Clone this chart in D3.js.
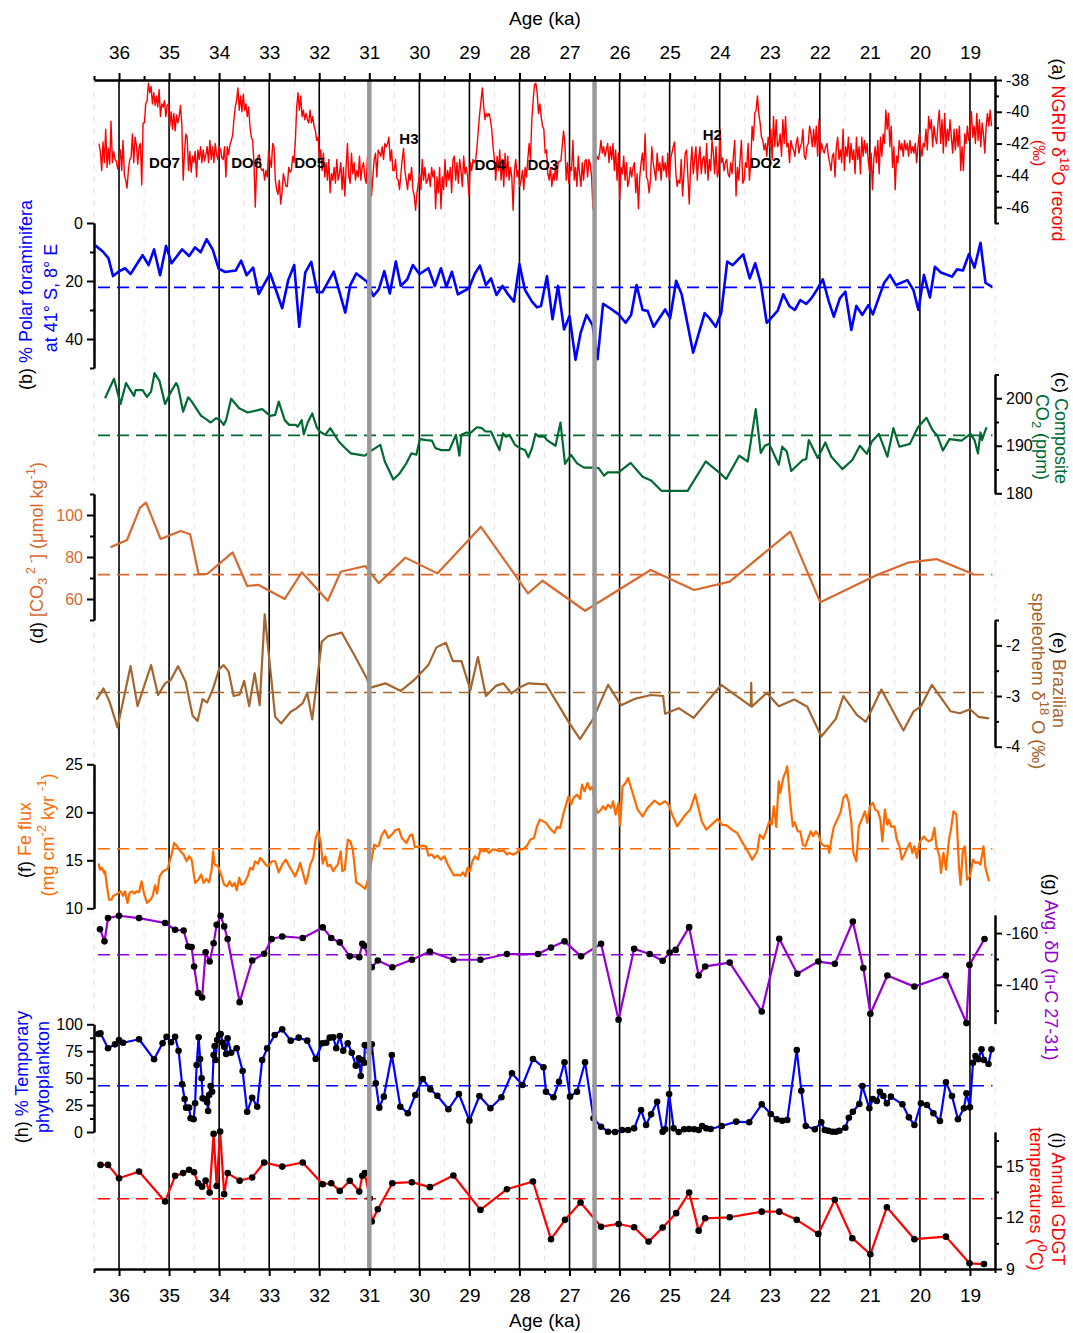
<!DOCTYPE html>
<html>
<head>
<meta charset="utf-8">
<script src="https://cdnjs.cloudflare.com/ajax/libs/d3/7.8.5/d3.min.js"></script>
<style>
  body { margin: 0; background: #fff; }
  text { font-family: "Liberation Sans", Arial, sans-serif; }
</style>
</head>
<body>
<svg id="chart"></svg>
<script>
// ---- data (ages in ka) ----
const ageTicks = [36, 35, 34, 33, 32, 31, 30, 29, 28, 27, 26, 25, 24, 23, 22, 21, 20, 19]
const eventBars = [31, 26.5]

// NGRIP d18O, read on an even age grid (36.40 -> 27.30 and 27.28 -> 18.57 ka)
const ngripOlder = [-42.0,-42.5,-43.7,-41.9,-43.2,-41.1,-43.5,-42.3,-43.3,-40.6,-43.2,-42.5,-43.0,-43.1,-43.6,-43.1,-42.4,-43.7,-41.8,-44.0,-44.3,-44.8,-43.7,-43.0,-42.9,-41.4,-43.2,-41.6,-42.1,-43.3,-42.2,-42.0,-44.6,-40.7,-40.7,-39.5,-39.3,-38.2,-38.8,-38.4,-39.5,-38.8,-39.6,-39.0,-39.7,-38.6,-40.3,-39.5,-39.7,-39.3,-40.3,-39.6,-39.5,-40.9,-40.0,-41.1,-40.1,-41.2,-40.2,-40.7,-40.3,-39.6,-40.8,-44.3,-42.6,-41.4,-41.6,-43.7,-42.5,-43.8,-42.8,-43.2,-42.5,-44.1,-42.4,-43.0,-42.2,-43.2,-42.4,-43.1,-42.7,-42.2,-43.2,-41.8,-43.0,-42.2,-43.2,-42.0,-42.7,-43.0,-42.2,-42.4,-42.9,-43.0,-42.2,-44.1,-42.2,-42.7,-42.1,-41.8,-41.5,-40.5,-39.7,-39.3,-38.5,-39.9,-39.0,-40.0,-38.9,-39.9,-39.5,-40.3,-39.7,-40.9,-41.6,-41.8,-43.2,-46.0,-43.5,-42.8,-42.7,-43.5,-43.7,-43.6,-44.3,-43.7,-44.1,-42.4,-43.0,-43.5,-42.0,-42.2,-44.3,-44.9,-45.2,-44.3,-45.8,-45.1,-43.9,-44.3,-44.7,-44.7,-43.5,-43.8,-43.7,-42.8,-43.2,-41.8,-39.7,-38.8,-39.9,-39.0,-40.3,-39.9,-40.5,-40.1,-40.5,-40.7,-39.9,-40.7,-40.3,-40.9,-41.2,-41.8,-41.6,-43.0,-42.4,-43.7,-42.6,-44.1,-43.2,-44.3,-43.0,-45.1,-43.9,-44.3,-43.5,-44.5,-43.0,-44.3,-43.9,-43.2,-44.9,-43.5,-45.3,-43.5,-42.0,-44.1,-44.5,-42.6,-43.9,-43.2,-44.3,-43.7,-44.1,-42.8,-44.3,-43.5,-43.2,-44.1,-44.5,-42.8,-44.3,-43.0,-45.3,-44.1,-43.0,-42.6,-44.1,-42.4,-42.6,-42.8,-42.2,-43.0,-42.0,-42.2,-42.0,-41.6,-43.1,-42.4,-43.7,-43.7,-43.0,-44.2,-44.3,-44.9,-43.9,-43.0,-42.3,-43.7,-44.3,-44.9,-43.9,-44.3,-43.5,-44.9,-45.3,-46.2,-45.1,-44.5,-43.9,-44.9,-43.0,-44.3,-43.5,-44.5,-44.3,-43.9,-44.7,-43.5,-44.1,-43.7,-46.1,-44.1,-45.1,-43.5,-46.1,-44.1,-44.9,-43.0,-44.7,-43.7,-44.3,-43.5,-45.1,-43.0,-42.8,-44.3,-43.2,-44.5,-43.0,-43.7,-44.7,-42.8,-43.9,-43.5,-44.1,-45.3,-43.2,-43.7,-43.0,-43.2,-43.0,-42.2,-41.1,-40.1,-39.3,-38.5,-39.7,-40.5,-40.1,-40.3,-40.1,-40.5,-41.1,-42.2,-43.0,-44.3,-42.8,-43.7,-42.4,-44.3,-43.0,-44.7,-42.6,-44.1,-42.8,-44.3,-43.5,-44.1,-46.2,-43.7,-43.0,-44.1,-43.7,-44.7,-44.3,-43.7,-44.9,-43.5,-44.1,-43.0,-42.0,-43.0,-40.5,-39.3,-38.3,-38.2,-38.8,-40.1,-39.5,-40.3,-40.9,-41.1,-42.6,-42.4,-43.9,-44.3,-43.5,-44.7,-43.9,-44.3]
const ngripYounger = [-43.2,-44.3,-43.2,-43.1,-43.1,-42.2,-41.2,-42.0,-44.3,-43.2,-44.5,-43.5,-43.7,-41.8,-44.3,-43.5,-44.7,-42.8,-43.9,-44.7,-43.2,-44.3,-43.1,-43.0,-44.1,-43.0,-43.3,-44.1,-46.1,-43.3,-43.2,-42.8,-43.0,-42.6,-41.8,-42.6,-42.2,-42.8,-42.4,-42.0,-43.2,-42.2,-43.0,-42.0,-43.7,-42.4,-44.3,-42.6,-45.5,-43.5,-43.9,-42.8,-44.3,-43.2,-44.7,-44.3,-43.5,-44.1,-43.5,-43.2,-45.1,-43.9,-46.1,-44.1,-43.2,-42.6,-43.7,-41.4,-44.1,-44.3,-45.1,-44.3,-42.2,-43.2,-43.7,-44.3,-42.6,-43.7,-43.2,-44.3,-42.8,-43.7,-43.2,-44.1,-42.6,-44.3,-43.0,-42.6,-42.2,-41.9,-43.9,-44.7,-44.3,-44.5,-43.0,-45.3,-43.9,-42.6,-42.4,-44.1,-45.8,-43.5,-42.2,-43.9,-43.0,-42.2,-44.3,-43.0,-42.2,-43.9,-43.0,-42.8,-43.9,-42.0,-44.3,-43.0,-43.7,-41.8,-42.6,-43.9,-42.2,-44.1,-43.7,-41.1,-43.2,-42.9,-43.7,-43.2,-43.0,-43.9,-44.1,-43.2,-43.9,-42.8,-41.8,-45.3,-43.5,-44.3,-43.0,-41.8,-44.5,-44.3,-43.2,-43.5,-42.0,-44.3,-43.2,-40.9,-41.8,-40.1,-39.9,-39.0,-40.1,-40.7,-41.6,-41.8,-42.4,-42.0,-42.8,-41.6,-42.2,-41.1,-43.0,-40.3,-42.2,-40.5,-42.2,-42.0,-41.4,-42.8,-40.5,-42.0,-40.3,-42.2,-42.0,-43.2,-41.8,-42.2,-42.4,-42.8,-42.0,-41.6,-42.6,-42.2,-42.0,-41.1,-42.8,-43.0,-42.2,-42.0,-40.9,-41.4,-42.2,-41.1,-42.2,-40.9,-42.8,-40.5,-42.6,-42.0,-42.4,-42.6,-42.2,-42.0,-42.8,-43.2,-43.7,-42.8,-42.6,-44.1,-42.2,-41.6,-43.0,-42.4,-43.2,-41.1,-43.7,-42.2,-42.8,-41.6,-43.2,-42.0,-43.0,-42.4,-43.9,-41.6,-43.0,-42.2,-43.9,-41.6,-42.8,-41.8,-42.6,-42.0,-43.2,-43.9,-42.6,-44.9,-43.0,-42.2,-43.2,-41.8,-43.9,-41.6,-42.8,-41.4,-42.0,-39.9,-41.1,-40.1,-42.2,-40.9,-43.5,-42.2,-44.9,-42.8,-43.2,-41.8,-42.4,-42.0,-42.8,-41.8,-42.4,-42.0,-42.8,-41.8,-42.6,-42.2,-42.6,-42.0,-43.2,-42.2,-41.4,-42.2,-42.8,-42.0,-42.2,-41.1,-42.4,-40.3,-41.1,-40.5,-42.2,-40.9,-41.6,-42.0,-40.7,-39.9,-42.0,-40.5,-42.6,-40.1,-42.2,-41.1,-41.8,-40.5,-41.6,-42.6,-41.1,-42.4,-41.1,-42.2,-40.9,-43.7,-42.2,-43.7,-41.4,-42.0,-40.9,-41.8,-41.1,-40.0,-41.6,-40.9,-42.0,-40.1,-41.8,-40.5,-42.2,-40.7,-41.4,-42.6,-40.9,-40.1,-40.9,-39.9,-40.9]
const ngripEvents = [['DO7',35.40,-43.2],['DO6',33.76,-43.2],['DO5',32.50,-43.2],['H3',30.40,-41.7],['DO4',28.90,-43.3],['DO3',27.84,-43.3],['H2',24.34,-41.4],['DO2',23.40,-43.2]]

const foram = [[36.47,7.8],[36.32,9.9],[36.21,12.2],[36.12,18.3],[36.01,16.8],[35.88,15.6],[35.77,17.6],[35.53,11.1],[35.41,14.5],[35.30,9.1],[35.18,18.0],[35.06,7.9],[34.95,13.9],[34.74,9.1],[34.60,11.4],[34.48,8.4],[34.37,10.1],[34.25,5.6],[34.13,9.1],[34.01,15.7],[33.88,16.9],[33.67,16.4],[33.56,13.0],[33.45,18.0],[33.32,15.4],[33.21,24.5],[32.98,17.4],[32.74,29.4],[32.62,19.7],[32.50,14.5],[32.40,35.8],[32.28,17.1],[32.16,13.4],[32.04,23.9],[31.94,23.9],[31.71,16.8],[31.48,30.9],[31.38,21.4],[31.26,17.4],[31.05,20.2],[30.92,25.2],[30.81,22.9],[30.70,16.6],[30.59,24.3],[30.47,13.3],[30.37,21.7],[30.24,19.4],[30.13,14.5],[30.00,17.6],[29.82,15.6],[29.69,21.7],[29.57,15.6],[29.46,22.0],[29.35,16.8],[29.23,24.6],[29.01,22.5],[28.89,17.4],[28.79,14.7],[28.67,21.4],[28.57,19.1],[28.46,24.8],[28.34,21.7],[28.22,24.8],[28.11,27.1],[28.00,14.2],[27.89,23.1],[27.75,27.1],[27.65,29.1],[27.57,28.6],[27.45,18.3],[27.34,33.2],[27.23,21.7],[27.11,36.7],[27.00,32.1],[26.88,47.2],[26.78,38.0],[26.66,31.7],[26.54,35.2],[26.44,47.0],[26.33,27.9],[26.19,29.4],[26.02,31.5],[25.88,34.4],[25.77,31.7],[25.66,21.4],[25.54,30.0],[25.44,30.3],[25.32,35.8],[25.09,29.8],[24.99,32.9],[24.87,19.9],[24.76,24.6],[24.53,44.7],[24.30,31.1],[24.20,32.9],[24.08,35.8],[23.97,31.1],[23.85,13.3],[23.74,14.5],[23.53,10.8],[23.40,19.1],[23.29,13.9],[23.18,20.8],[23.06,34.4],[22.84,30.2],[22.73,24.6],[22.61,28.6],[22.50,30.0],[22.39,26.6],[22.27,27.9],[22.17,26.0],[22.06,23.1],[21.94,19.4],[21.82,27.1],[21.72,32.3],[21.60,26.0],[21.49,23.7],[21.37,36.9],[21.27,28.6],[21.15,31.7],[21.03,28.3],[20.94,31.5],[20.72,20.8],[20.60,17.9],[20.48,21.4],[20.25,19.7],[20.13,23.1],[20.03,30.0],[19.92,17.9],[19.80,25.7],[19.70,15.1],[19.58,17.1],[19.36,18.5],[19.26,16.0],[19.14,16.4],[19.02,10.7],[18.91,15.4],[18.79,6.8],[18.69,20.6],[18.56,22.0]]

const co2 = [[36.28,200.0],[36.10,204.1],[35.97,198.8],[35.86,203.2],[35.70,200.5],[35.67,201.7],[35.53,201.7],[35.44,200.3],[35.36,201.4],[35.29,205.3],[35.19,203.6],[35.08,198.8],[34.96,201.4],[34.86,203.2],[34.82,202.4],[34.72,197.2],[34.62,200.2],[34.56,199.5],[34.36,196.3],[34.26,195.6],[34.17,194.9],[34.06,195.8],[33.98,195.4],[33.91,194.4],[33.86,195.4],[33.76,199.9],[33.60,197.9],[33.43,197.0],[33.14,197.7],[32.98,196.3],[32.88,196.5],[32.81,199.3],[32.69,195.4],[32.60,194.4],[32.47,194.4],[32.43,194.0],[32.35,195.4],[32.31,192.4],[32.23,194.9],[32.14,196.8],[32.05,193.9],[31.99,193.0],[31.88,192.3],[31.78,193.7],[31.61,190.9],[31.50,189.7],[31.37,188.4],[31.19,188.1],[31.09,187.9],[30.99,188.8],[30.88,189.5],[30.78,190.2],[30.69,186.7],[30.52,182.9],[30.40,184.1],[30.26,186.3],[30.16,188.4],[30.06,188.1],[29.99,191.4],[29.86,191.2],[29.75,191.1],[29.68,189.5],[29.57,189.1],[29.40,189.1],[29.27,192.3],[29.20,187.9],[29.16,192.3],[29.06,192.8],[28.99,192.6],[28.85,193.9],[28.75,193.7],[28.68,193.0],[28.57,193.0],[28.40,189.1],[28.33,192.6],[28.27,191.9],[28.20,192.3],[28.09,190.2],[27.99,189.5],[27.89,189.1],[27.82,187.6],[27.75,189.5],[27.68,192.5],[27.61,191.9],[27.50,191.9],[27.45,191.2],[27.28,190.0],[27.18,194.9],[27.09,186.2],[26.97,188.1],[26.85,186.3],[26.71,185.4],[26.54,185.4],[26.42,185.3],[26.31,183.7],[26.24,184.4],[26.02,184.4],[25.78,186.4],[25.54,183.5],[25.37,182.7],[25.16,180.5],[24.64,180.5],[24.28,186.7],[23.99,184.2],[23.87,183.0],[23.61,187.9],[23.44,186.7],[23.34,193.5],[23.28,197.7],[23.18,188.5],[23.10,190.0],[23.01,190.4],[22.82,186.0],[22.75,189.8],[22.66,188.8],[22.57,184.7],[22.44,186.0],[22.34,187.0],[22.27,187.2],[22.22,191.2],[22.04,187.4],[21.89,190.7],[21.77,187.7],[21.55,185.1],[21.35,187.0],[21.20,190.0],[21.06,188.3],[20.96,190.9],[20.82,192.5],[20.65,187.7],[20.53,193.7],[20.41,189.8],[20.20,190.4],[20.04,193.9],[19.87,195.9],[19.75,193.3],[19.65,192.1],[19.54,189.0],[19.41,191.4],[19.17,191.1],[18.99,192.5],[18.91,191.2],[18.84,188.4],[18.79,192.8],[18.76,191.2],[18.67,193.9]]

const carbonate = [[36.17,84.6],[35.84,88.1],[35.58,103.5],[35.46,105.9],[35.17,88.6],[34.77,92.4],[34.58,90.8],[34.41,71.9],[34.24,71.9],[33.73,82.2],[33.44,66.2],[33.21,66.7],[32.69,60.0],[32.35,72.7],[31.83,59.2],[31.57,73.0],[31.08,75.7],[30.81,67.5],[30.28,79.7],[29.64,72.2],[28.77,94.4],[27.83,62.7],[27.54,68.7],[26.69,54.4],[25.38,73.8],[24.51,64.3],[23.80,68.3],[22.59,92.1],[21.99,58.4],[20.86,71.4],[20.24,77.3],[19.67,79.0],[18.93,71.8]]

const speleo = [[36.45,-3.07],[36.31,-2.85],[36.19,-3.11],[36.03,-3.62],[35.77,-2.41],[35.63,-3.20],[35.36,-2.39],[35.22,-2.98],[35.08,-2.75],[34.97,-2.69],[34.82,-2.41],[34.67,-2.72],[34.53,-3.39],[34.43,-3.49],[34.33,-3.06],[34.24,-3.13],[34.12,-2.85],[34.00,-2.47],[33.91,-2.39],[33.81,-2.52],[33.71,-3.00],[33.59,-2.97],[33.50,-2.70],[33.40,-3.20],[33.29,-2.55],[33.19,-3.18],[33.09,-1.39],[32.88,-3.41],[32.76,-3.54],[32.57,-3.31],[32.45,-3.24],[32.33,-3.14],[32.24,-2.94],[32.14,-3.46],[31.95,-1.93],[31.83,-1.82],[31.55,-1.75],[31.30,-2.19],[31.05,-2.65],[30.99,-2.84],[30.68,-2.75],[30.37,-2.90],[30.09,-2.67],[29.82,-2.39],[29.66,-2.04],[29.47,-1.95],[29.33,-2.31],[29.16,-2.31],[28.98,-2.88],[28.83,-2.23],[28.67,-3.00],[28.47,-2.80],[28.32,-2.75],[28.16,-2.95],[27.98,-2.82],[27.82,-2.75],[27.47,-2.77],[27.00,-3.54],[26.79,-3.85],[26.54,-3.47],[26.23,-2.78],[25.97,-3.18],[25.68,-3.05],[25.37,-2.98],[25.13,-3.00],[25.09,-3.35],[24.82,-3.24],[24.52,-3.43],[23.97,-2.78],[23.38,-3.20],[23.37,-2.74],[23.36,-3.21],[23.06,-2.94],[22.82,-3.20],[22.51,-3.07],[22.25,-3.21],[21.97,-3.80],[21.68,-3.45],[21.53,-3.00],[21.26,-3.37],[21.08,-3.51],[20.77,-2.87],[20.33,-3.68],[20.13,-3.31],[19.98,-3.20],[19.76,-2.78],[19.39,-3.30],[19.20,-3.34],[19.00,-3.26],[18.83,-3.41],[18.62,-3.44]]

const feFlux = [[36.41,14.66],[36.38,14.03],[36.34,14.21],[36.30,13.69],[36.28,13.86],[36.24,12.29],[36.20,10.90],[36.15,10.90],[36.12,11.25],[36.06,11.43],[36.01,11.60],[35.97,11.77],[35.92,11.30],[35.88,11.77],[35.83,10.56],[35.79,11.60],[35.74,11.77],[35.69,11.53],[35.65,11.77],[35.60,11.67],[35.55,12.81],[35.50,11.53],[35.44,10.56],[35.37,10.90],[35.33,11.25],[35.28,12.40],[35.24,11.53],[35.19,13.33],[35.12,13.86],[35.03,14.10],[34.95,15.60],[34.90,16.81],[34.84,16.46],[34.77,15.94],[34.71,15.60],[34.65,14.90],[34.60,15.42],[34.55,15.07],[34.48,12.65],[34.41,13.00],[34.36,13.51],[34.31,12.65],[34.26,13.06],[34.20,12.71],[34.15,14.03],[34.12,15.94],[34.09,14.55],[34.02,14.38],[33.95,13.33],[33.90,12.47],[33.84,12.29],[33.79,12.81],[33.74,12.29],[33.69,12.65],[33.65,11.88],[33.60,13.17],[33.56,12.47],[33.50,12.57],[33.43,13.33],[33.38,14.21],[33.33,14.03],[33.28,14.90],[33.22,14.66],[33.18,15.25],[33.12,14.90],[33.07,14.55],[33.02,14.38],[32.95,14.90],[32.88,14.90],[32.81,13.75],[32.74,14.55],[32.67,15.07],[32.60,14.38],[32.54,13.86],[32.48,13.33],[32.43,13.96],[32.38,14.73],[32.33,13.75],[32.27,12.57],[32.23,13.27],[32.18,14.55],[32.12,15.25],[32.07,17.33],[32.02,18.02],[31.97,16.81],[31.93,14.66],[31.88,15.42],[31.83,14.38],[31.78,14.55],[31.72,13.86],[31.68,14.21],[31.63,14.55],[31.57,15.94],[31.54,13.86],[31.49,14.03],[31.43,17.16],[31.38,16.98],[31.33,16.11],[31.26,12.71],[31.17,12.40],[31.08,12.02],[30.99,13.69],[30.95,15.25],[30.90,16.64],[30.85,16.46],[30.81,16.53],[30.76,17.50],[30.69,18.13],[30.62,17.33],[30.55,17.68],[30.48,18.13],[30.41,18.27],[30.35,17.33],[30.26,16.81],[30.19,17.57],[30.14,17.68],[30.09,16.40],[30.02,16.40],[29.93,16.53],[29.86,16.40],[29.82,15.49],[29.75,15.60],[29.70,15.25],[29.64,15.49],[29.57,15.07],[29.50,15.42],[29.43,14.55],[29.37,13.96],[29.31,13.41],[29.25,13.51],[29.18,13.41],[29.13,13.75],[29.08,13.33],[29.04,14.21],[28.99,13.86],[28.94,14.90],[28.89,15.42],[28.83,15.07],[28.78,16.11],[28.71,15.94],[28.67,16.11],[28.61,15.77],[28.55,16.11],[28.48,16.11],[28.40,15.94],[28.32,16.04],[28.25,15.60],[28.20,15.77],[28.13,15.60],[28.06,15.77],[27.99,16.11],[27.92,16.18],[27.85,16.53],[27.78,17.16],[27.71,17.33],[27.65,18.54],[27.59,19.24],[27.47,18.90],[27.37,18.20],[27.30,17.85],[27.25,18.48],[27.19,18.37],[27.11,20.10],[27.02,21.67],[26.97,20.80],[26.92,21.50],[26.85,21.84],[26.79,21.40],[26.75,22.89],[26.70,22.19],[26.64,23.06],[26.59,22.36],[26.54,22.71],[26.49,20.80],[26.44,19.94],[26.38,20.21],[26.33,20.63],[26.28,20.28],[26.23,20.80],[26.17,20.46],[26.13,21.15],[26.08,19.76],[26.02,20.98],[25.99,18.61],[25.94,22.71],[25.88,23.06],[25.83,23.58],[25.78,22.71],[25.71,21.50],[25.64,20.28],[25.54,19.58],[25.44,20.46],[25.30,21.22],[25.20,20.80],[25.09,21.15],[25.02,20.80],[24.95,19.76],[24.85,18.54],[24.71,19.58],[24.59,20.28],[24.49,21.84],[24.44,20.80],[24.36,19.06],[24.27,18.20],[24.16,18.72],[24.04,19.31],[23.96,18.72],[23.85,18.61],[23.76,18.20],[23.65,17.85],[23.54,16.81],[23.44,15.94],[23.35,15.07],[23.25,15.94],[23.20,17.68],[23.13,17.23],[23.06,18.20],[23.01,19.06],[22.96,18.72],[22.92,20.63],[22.87,18.48],[22.82,23.23],[22.79,22.02],[22.73,23.58],[22.68,24.27],[22.65,24.79],[22.59,20.98],[22.54,18.54],[22.50,18.96],[22.44,18.02],[22.39,18.02],[22.34,16.64],[22.29,16.46],[22.23,17.33],[22.18,18.02],[22.13,17.50],[22.08,18.02],[22.03,17.68],[21.97,16.74],[21.90,16.46],[21.84,16.53],[21.81,15.77],[21.77,17.16],[21.72,18.48],[21.65,19.24],[21.58,20.10],[21.53,21.50],[21.49,21.74],[21.47,21.84],[21.42,20.98],[21.37,18.90],[21.33,15.77],[21.27,14.90],[21.22,18.54],[21.15,19.42],[21.10,20.10],[21.05,18.90],[21.00,20.63],[20.94,20.98],[20.89,20.28],[20.84,20.10],[20.79,19.24],[20.75,16.98],[20.70,20.28],[20.65,18.72],[20.62,19.24],[20.57,18.48],[20.51,18.54],[20.46,17.16],[20.41,16.46],[20.36,15.07],[20.31,15.60],[20.25,16.29],[20.20,16.81],[20.15,15.77],[20.11,16.46],[20.06,15.25],[20.01,16.81],[19.97,17.16],[19.92,17.50],[19.87,17.16],[19.82,16.98],[19.76,17.16],[19.71,18.37],[19.67,16.46],[19.61,15.42],[19.58,13.69],[19.53,15.77],[19.48,14.03],[19.42,17.16],[19.38,18.20],[19.33,20.10],[19.27,19.76],[19.22,14.38],[19.19,12.47],[19.14,16.11],[19.10,16.46],[19.06,12.99],[19.00,13.33],[18.94,15.07],[18.89,14.73],[18.84,14.80],[18.79,14.55],[18.73,16.46],[18.69,14.21],[18.62,12.81]]

const deltaD = [[36.38,-161.5],[36.29,-156.8],[36.22,-165.8],[36.00,-166.7],[35.60,-165.8],[35.08,-163.9],[34.88,-161.3],[34.71,-161.0],[34.62,-154.8],[34.55,-154.6],[34.50,-147.1],[34.42,-136.8],[34.34,-135.1],[34.27,-152.6],[34.19,-149.0],[34.11,-156.1],[34.05,-163.2],[33.97,-166.7],[33.90,-162.6],[33.83,-157.7],[33.59,-133.3],[33.34,-149.4],[33.10,-152.0],[32.95,-157.7],[32.74,-158.7],[32.33,-158.1],[31.93,-162.2],[31.76,-158.1],[31.59,-156.4],[31.39,-151.0],[31.20,-150.7],[31.14,-155.9],[31.10,-155.1],[30.95,-146.8],[30.83,-149.4],[30.54,-146.8],[30.15,-149.7],[29.79,-152.9],[29.32,-149.7],[28.78,-149.7],[28.25,-151.9],[27.63,-151.9],[27.37,-154.4],[27.10,-156.8],[26.77,-151.0],[26.37,-155.9],[26.02,-126.5],[25.71,-153.9],[25.40,-151.9],[25.14,-149.3],[25.00,-152.5],[24.88,-153.5],[24.61,-162.3],[24.42,-143.6],[24.29,-147.1],[23.80,-148.6],[23.16,-129.7],[22.81,-157.8],[22.45,-144.3],[22.03,-149.0],[21.70,-148.1],[21.34,-164.5],[21.13,-146.5],[20.99,-128.8],[20.65,-143.6],[20.11,-139.3],[19.48,-143.6],[19.07,-125.2],[19.01,-147.7],[18.71,-157.7]]

const phyto = [[36.41,91.0],[36.37,91.6],[36.22,77.7],[36.08,81.4],[36.00,85.4],[35.92,82.9],[35.60,86.1],[35.30,67.5],[35.13,82.4],[35.05,88.5],[34.96,83.3],[34.88,88.5],[34.81,75.5],[34.74,44.3],[34.69,30.6],[34.66,22.6],[34.60,22.6],[34.57,12.7],[34.51,11.8],[34.48,26.6],[34.45,62.2],[34.41,87.9],[34.38,67.8],[34.35,49.9],[34.33,31.3],[34.28,30.4],[34.24,27.6],[34.22,19.5],[34.20,34.4],[34.17,42.7],[34.14,37.4],[34.11,71.5],[34.09,79.9],[34.07,66.9],[34.04,85.4],[34.00,90.1],[33.97,91.0],[33.93,82.9],[33.90,79.2],[33.86,72.4],[33.83,87.0],[33.76,73.6],[33.65,77.7],[33.53,56.6],[33.44,18.8],[33.34,31.8],[33.24,23.5],[33.14,66.9],[33.04,77.7],[32.89,90.1],[32.74,95.3],[32.57,84.8],[32.41,87.6],[32.24,84.8],[32.07,67.8],[31.94,82.4],[31.86,82.9],[31.79,87.6],[31.72,87.9],[31.66,77.7],[31.59,89.1],[31.52,75.5],[31.43,82.4],[31.35,73.6],[31.27,61.6],[31.21,68.4],[31.17,52.0],[31.14,66.9],[31.10,64.3],[31.09,80.8],[30.99,74.0],[30.95,81.4],[30.87,45.2],[30.80,22.6],[30.71,32.8],[30.55,71.5],[30.38,23.5],[30.23,17.4],[30.08,34.4],[29.93,49.2],[29.78,39.6],[29.64,33.7],[29.42,21.1],[29.21,35.3],[29.00,10.5],[28.80,33.4],[28.58,22.0],[28.36,32.2],[28.15,54.5],[27.94,43.6],[27.73,67.8],[27.52,60.1],[27.47,37.4],[27.32,32.2],[27.21,46.7],[27.10,64.7],[26.99,32.8],[26.85,37.4],[26.69,64.7],[26.52,12.7],[26.37,4.9],[26.23,0.3],[26.09,0.0],[25.95,1.9],[25.83,1.9],[25.71,3.4],[25.57,20.4],[25.47,6.5],[25.37,16.4],[25.25,28.1],[25.14,0.3],[25.09,2.5],[25.01,35.3],[24.92,3.4],[24.82,0.0],[24.71,2.5],[24.61,2.8],[24.51,2.5],[24.42,1.9],[24.35,5.6],[24.27,3.4],[24.18,2.8],[23.96,5.6],[23.67,9.6],[23.41,9.0],[23.16,25.7],[22.98,16.7],[22.86,11.8],[22.75,10.5],[22.65,11.1],[22.46,76.1],[22.37,38.3],[22.28,5.6],[22.10,2.5],[21.97,9.0],[21.90,1.9],[21.83,1.2],[21.75,0.3],[21.68,0.3],[21.61,1.2],[21.49,4.0],[21.42,13.3],[21.34,18.8],[21.21,26.0],[21.15,42.7],[21.01,22.0],[20.94,30.6],[20.86,28.8],[20.80,37.4],[20.73,33.4],[20.66,26.6],[20.58,32.8],[20.35,25.7],[20.22,13.6],[20.11,6.5],[19.98,26.6],[19.86,25.1],[19.73,17.4],[19.60,10.2],[19.48,46.1],[19.36,33.4],[19.24,11.8],[19.12,22.0],[19.07,35.9],[19.00,22.9],[18.94,64.3],[18.89,70.6],[18.83,67.5],[18.77,76.8],[18.72,66.9],[18.63,63.1],[18.57,76.8]]

const gdgt = [[36.37,15.08],[36.22,15.08],[36.00,14.30],[35.60,14.69],[35.08,12.94],[34.88,14.44],[34.72,14.60],[34.60,14.79],[34.50,14.65],[34.42,14.01],[34.34,13.81],[34.27,14.16],[34.19,13.46],[34.11,16.89],[34.05,13.85],[33.98,17.03],[33.90,13.37],[33.83,14.60],[33.59,14.16],[33.34,14.34],[33.10,15.22],[32.74,14.98],[32.33,15.22],[31.93,13.95],[31.76,14.01],[31.59,13.56],[31.39,14.15],[31.20,13.52],[31.14,14.44],[31.09,14.60],[30.99,13.13],[30.95,11.77],[30.83,12.49],[30.54,14.01],[30.15,14.07],[29.79,13.78],[29.32,14.46],[28.78,12.45],[28.25,13.66],[27.73,14.11],[27.37,10.74],[27.09,11.87],[26.78,12.88],[26.37,11.47],[26.02,11.63],[25.71,11.44],[25.42,10.60],[25.14,11.42],[24.87,12.26],[24.61,13.46],[24.42,11.24],[24.29,11.96],[23.80,12.02],[23.16,12.35],[22.81,12.35],[22.46,11.87],[22.03,11.05],[21.70,13.04],[21.35,10.80],[20.99,9.86],[20.66,12.61],[20.11,10.74],[19.48,10.89],[19.01,9.33],[18.72,9.29]]

// long-term mean levels (dashed)
const foramMean = 22.2
const co2Mean = 192.2
const carbonateMean = 71.6
const speleoMean = -2.93
const feMean = 16.2
const deltaDMean = -151.6
const phytoMean = 43
const gdgtMean = 13.1

// ---- layout ----
const W = 1073, H = 1333
const axisTopY = 80, axisBottomY = 1269
const leftX = 94, rightX = 995
const C = {
  black: '#000', red: '#ff0000', blue: '#0000ff', green: '#006a32',
  co3: '#d8692e', brown: '#a5652f', fe: '#ff6a00', purple: '#9400d3'
}

const svg = d3.select('#chart').attr('width', W).attr('height', H)

const x = d3.scaleLinear().domain([36.5, 18.5]).range([leftX, rightX])

const yA = d3.scaleLinear().domain([-47, -38]).range([223, 80])
const yB = d3.scaleLinear().domain([0, 50]).range([223, 368])
const yC = d3.scaleLinear().domain([180, 205]).range([493.3, 374.5])
const yD = d3.scaleLinear().domain([50, 110]).range([620, 494])
const yE = d3.scaleLinear().domain([-4, -1.5]).range([746.7, 620])
const yF = d3.scaleLinear().domain([10, 25]).range([908.3, 764.3])
const yG = d3.scaleLinear().domain([-167, -125]).range([915, 1023.6])
const yH = d3.scaleLinear().domain([0, 100]).range([1132, 1024.3])
const yI = d3.scaleLinear().domain([9, 17]).range([axisBottomY, 1132])

const spread = (vals, from, to) => {
  const step = (to - from) / (vals.length - 1)
  return vals.map((v, i) => [from + i * step, v])
}
const ngrip = [...spread(ngripOlder, 36.40, 27.30), ...spread(ngripYounger, 27.28, 18.57)]

// faint half-ka guide lines
svg.append('g').selectAll('line')
  .data(d3.range(36.5, 18.4, -1))
  .join('line')
  .attr('x1', d => x(d)).attr('x2', d => x(d))
  .attr('y1', axisTopY).attr('y2', axisBottomY)
  .attr('stroke', '#e4e4e4').attr('stroke-width', 1).attr('stroke-dasharray', '6,6')

// black 1-ka lines
svg.append('g').selectAll('line')
  .data(ageTicks)
  .join('line')
  .attr('x1', d => x(d)).attr('x2', d => x(d))
  .attr('y1', axisTopY).attr('y2', axisBottomY)
  .attr('stroke', '#000').attr('stroke-width', 1.6)

// dashed mean lines
const means = [
  [foramMean, yB, C.blue], [co2Mean, yC, C.green], [carbonateMean, yD, C.co3],
  [speleoMean, yE, C.brown], [feMean, yF, C.fe], [deltaDMean, yG, C.purple],
  [phytoMean, yH, C.blue], [gdgtMean, yI, C.red]
]
svg.append('g').selectAll('line')
  .data(means)
  .join('line')
  .attr('x1', x(36.42)).attr('x2', x(18.55))
  .attr('y1', d => d[1](d[0])).attr('y2', d => d[1](d[0]))
  .attr('stroke', d => d[2]).attr('stroke-width', 1.6).attr('stroke-dasharray', '12,7')

// series
const series = [
  { data: ngrip, y: yA, color: C.red, w: 1.4 },
  { data: foram, y: yB, color: C.blue, w: 2.6 },
  { data: co2, y: yC, color: C.green, w: 2.2 },
  { data: carbonate, y: yD, color: C.co3, w: 2.2 },
  { data: speleo, y: yE, color: C.brown, w: 2.2 },
  { data: feFlux, y: yF, color: C.fe, w: 2.2 },
  { data: deltaD, y: yG, color: C.purple, w: 2.2, dots: true },
  { data: phyto, y: yH, color: C.blue, w: 2.2, dots: true },
  { data: gdgt, y: yI, color: C.red, w: 2.2, dots: true }
]
series.forEach(s => {
  const line = d3.line().x(d => x(d[0])).y(d => s.y(d[1]))
  svg.append('path')
    .datum(s.data)
    .attr('d', line)
    .attr('fill', 'none')
    .attr('stroke', s.color)
    .attr('stroke-width', s.w)
    .attr('stroke-linejoin', 'round')
  if (s.dots) {
    svg.append('g').selectAll('circle')
      .data(s.data)
      .join('circle')
      .attr('cx', d => x(d[0]))
      .attr('cy', d => s.y(d[1]))
      .attr('r', 3.3)
      .attr('fill', '#000')
  }
})

// grey event bars
svg.append('g').selectAll('line')
  .data(eventBars)
  .join('line')
  .attr('x1', d => x(d)).attr('x2', d => x(d))
  .attr('y1', axisTopY).attr('y2', axisBottomY)
  .attr('stroke', '#999').attr('stroke-width', 4.5)

// DO / Heinrich labels
svg.append('g').selectAll('text')
  .data(ngripEvents)
  .join('text')
  .attr('x', d => x(d[1]))
  .attr('y', d => yA(d[2]))
  .attr('dominant-baseline', 'central')
  .style('font-size', '15px')
  .style('font-weight', 'bold')
  .text(d => d[0])

// ---- axes ----
const styleAxis = (g, color, size) => {
  g.attr('font-family', '"Liberation Sans", Arial, sans-serif').attr('font-size', size)
  g.selectAll('.domain').attr('stroke', '#000').attr('stroke-width', 2)
  g.selectAll('.tick line').attr('stroke', '#000').attr('stroke-width', 2)
  g.selectAll('.tick text').attr('fill', color)
}

const topG = svg.append('g').attr('transform', `translate(0,${axisTopY})`)
topG.call(d3.axisTop(x).tickValues(ageTicks).tickSize(7).tickSizeOuter(0).tickPadding(14))
topG.append('g').call(d3.axisTop(x).tickValues(d3.range(36.5, 18.4, -1)).tickSize(4).tickSizeOuter(0).tickFormat(''))
styleAxis(topG, '#000', 19)

const botG = svg.append('g').attr('transform', `translate(0,${axisBottomY})`)
botG.call(d3.axisBottom(x).tickValues(ageTicks).tickSize(7).tickSizeOuter(0).tickPadding(13))
botG.append('g').call(d3.axisBottom(x).tickValues(d3.range(36.5, 18.4, -1)).tickSize(4).tickSizeOuter(0).tickFormat(''))
styleAxis(botG, '#000', 19)

const sideAxis = (scale, side, major, minor, color) => {
  const make = side === 'left' ? d3.axisLeft : d3.axisRight
  const g = svg.append('g').attr('transform', `translate(${side === 'left' ? leftX : rightX},0)`)
  g.call(make(scale).tickValues(major).tickSize(7).tickSizeOuter(0).tickPadding(4).tickFormat(d => String(d)))
  g.append('g').call(make(scale).tickValues(minor).tickSize(4).tickSizeOuter(0).tickFormat(''))
  styleAxis(g, color, 16)
}
sideAxis(yA, 'right', [-46, -44, -42, -40, -38], [-47, -45, -43, -41, -39], '#000')
sideAxis(yB, 'left', [0, 20, 40], [10, 30, 50], '#000')
sideAxis(yC, 'right', [180, 190, 200], [185, 195, 205], '#000')
sideAxis(yD, 'left', [60, 80, 100], [50, 70, 90, 110], C.co3)
sideAxis(yE, 'right', [-4, -3, -2], [-3.5, -2.5, -1.5], '#000')
sideAxis(yF, 'left', [10, 15, 20, 25], [], '#000')
sideAxis(yG, 'right', [-160, -140], [-150, -130], '#000')
sideAxis(yH, 'left', [0, 25, 50, 75, 100], [12.5, 37.5, 62.5, 87.5], '#000')
sideAxis(yI, 'right', [9, 12, 15], [10.5, 13.5, 16.5], '#000')

// ---- titles ----
svg.append('text').attr('x', 545).attr('y', 18).attr('text-anchor', 'middle')
  .attr('dominant-baseline', 'central').style('font-size', '19px').text('Age (ka)')
svg.append('text').attr('x', 545).attr('y', 1320).attr('text-anchor', 'middle')
  .attr('dominant-baseline', 'central').style('font-size', '19px').text('Age (ka)')

const axisTitle = (cx, cy, rot, parts, size = 18) => {
  const t = svg.append('text')
    .attr('transform', `translate(${cx},${cy}) rotate(${rot})`)
    .attr('text-anchor', 'middle')
    .attr('dominant-baseline', 'central')
    .style('font-size', size + 'px')
  let shift = 0
  parts.forEach(([str, color, pos]) => {
    const target = pos === 'sup' ? -7 : pos === 'sub' ? 5 : 0
    const s = t.append('tspan').attr('fill', color).attr('dy', target - shift).text(str)
    if (pos) s.style('font-size', '13px')
    shift = target
  })
}

axisTitle(1058, 150, 90, [['(a) ', C.black], ['NGRIP \u03b4', C.red], ['18', C.red, 'sup'], ['O record', C.red]])
axisTitle(1039, 153, 90, [['(\u2030)', C.red]], 16)
axisTitle(26, 295, -90, [['(b) ', C.black], ['% Polar foraminifera', C.blue]])
axisTitle(51, 298, -90, [['at 41\u00b0 S, 8\u00b0 E', C.blue]])
axisTitle(1061, 428, 90, [['(c) ', C.black], ['Composite', C.green]])
axisTitle(1042, 437, 90, [['CO', C.green], ['2', C.green, 'sub'], [' (ppm)', C.green]])
axisTitle(37, 553, -90, [['(d) ', C.black], ['[CO', C.co3], ['3', C.co3, 'sub'], [' 2 -', C.co3, 'sup'], ['] (\u03bcmol kg', C.co3], ['-1', C.co3, 'sup'], [')', C.co3]])
axisTitle(1059, 680, 90, [['(e) ', C.black], ['Brazilian', C.brown]])
axisTitle(1038, 681, 90, [['speleothem \u03b4', C.brown], ['18', C.brown, 'sup'], [' O (\u2030)', C.brown]])
axisTitle(25, 840, -90, [['(f) ', C.black], ['Fe flux', C.fe]])
axisTitle(48, 835, -90, [['(mg cm', C.fe], ['-2', C.fe, 'sup'], [' kyr ', C.fe], ['-1', C.fe, 'sup'], [')', C.fe]])
axisTitle(1051, 967, 90, [['(g) ', C.black], ['Avg. \u03b4D (n-C 27-31)', C.purple]])
axisTitle(22, 1077, -90, [['(h) ', C.black], ['% Temporary', C.blue]])
axisTitle(43, 1077, -90, [['phytoplankton', C.blue]])
axisTitle(1058, 1199, 90, [['(i) ', C.black], ['Annual GDGT', C.red]])
axisTitle(1036, 1199, 90, [['temperatures (', C.red], ['0', C.red, 'sup'], ['C)', C.red]])
</script>
</body>
</html>
